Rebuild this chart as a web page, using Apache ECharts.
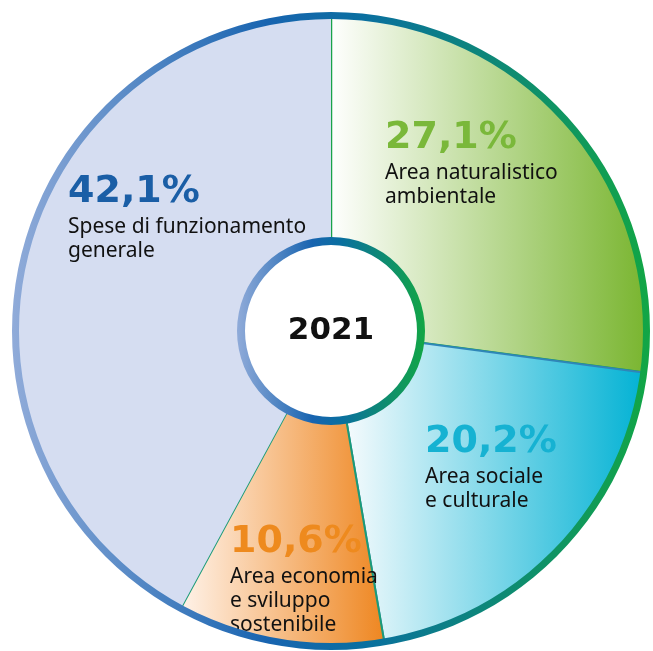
<!DOCTYPE html>
<html>
<head>
<meta charset="utf-8">
<script src="https://cdn.jsdelivr.net/npm/echarts@6/dist/echarts.min.js"></script>
<style>
  html, body { margin: 0; padding: 0; background: #ffffff; }
  #chart { width: 653px; height: 651px; }
</style>
</head>
<body>
<div id="chart"></div>
<script>
// Budget shares by area, 2021 (clockwise from 12 o'clock)
const categories = [
  'Area naturalistico\nambientale',
  'Area sociale\ne culturale',
  'Area economia\ne sviluppo\nsostenibile',
  'Spese di funzionamento\ngenerale'
];
const shares = [27.1, 20.2, 10.6, 42.1];
const yearLabel = '2021';

const percentColors = ['#7ab83a', '#16b2d2', '#ee8a1e', '#1a5ea6'];
const sliceFills = [
  new echarts.graphic.LinearGradient(0, 0, 1, 0, [
    { offset: 0, color: '#ffffff' }, { offset: 1, color: '#79b52f' }]),
  new echarts.graphic.LinearGradient(0, 0, 1, 0, [
    { offset: 0, color: '#f6fbfd' }, { offset: 1, color: '#02b2d4' }]),
  new echarts.graphic.LinearGradient(0, 0, 1, 0, [
    { offset: 0, color: '#fff3ea' }, { offset: 1, color: '#ee8620' }]),
  '#d5ddf1'
];
const sliceBorders = ['#19a34a', '#2f86b8', '#1b9b78', '#86a3d4'];
const sliceBorderWidths = [2.5, 2, 2, 0];

// text block anchors (top-left) for each slice label
const labelAnchors = [[385, 115], [425, 419], [230, 519], [68, 169]];

const ringGradient = () => new echarts.graphic.LinearGradient(0, 0, 1, 0, [
  { offset: 0, color: '#90abd9' },
  { offset: 0.4, color: '#1864b0' },
  { offset: 0.55, color: '#0a6fa0' },
  { offset: 1, color: '#12a645' }
]);

const fmtPct = v => v.toFixed(1).replace('.', ',') + '%';

const CX = 331, CY = 331;

const chart = echarts.init(document.getElementById('chart'), null, { renderer: 'canvas' });
chart.setOption({
  animation: false,
  series: [
    {
      type: 'pie',
      center: [CX, CY],
      radius: [88, 315],
      startAngle: 90,
      clockwise: true,
      z: 2,
      data: shares.map((v, i) => ({
        value: v,
        name: categories[i],
        itemStyle: { color: sliceFills[i], borderColor: sliceBorders[i], borderWidth: sliceBorderWidths[i] },
        label: {
          formatter: '{p|' + fmtPct(v) + '}\n' + categories[i].split('\n').map(s => '{t|' + s + '}').join('\n'),
          rich: {
            p: { fontFamily: 'DejaVu Sans', fontWeight: 'bold', fontSize: 38, lineHeight: 46, color: percentColors[i] },
            t: { fontFamily: 'Noto Sans', fontSize: 21, lineHeight: 24, color: '#111111' }
          }
        }
      })),
      label: { show: true, position: 'inside' },
      labelLine: { show: false },
      labelLayout: params => ({
        x: labelAnchors[params.dataIndex][0],
        y: labelAnchors[params.dataIndex][1],
        align: 'left',
        verticalAlign: 'top'
      }),
      emphasis: { disabled: true }
    },
    {
      // outer rim
      type: 'pie',
      center: [CX, CY],
      radius: [312, 319],
      silent: true,
      z: 3,
      label: { show: false },
      data: [{ value: 1, itemStyle: { color: ringGradient() } }]
    },
    {
      // inner hub rim
      type: 'pie',
      center: [CX, CY],
      radius: [86, 94],
      silent: true,
      z: 3,
      label: { show: false },
      data: [{ value: 1, itemStyle: { color: ringGradient() } }]
    }
  ],
  graphic: [{
    type: 'text',
    x: CX, y: CY,
    z: 10,
    style: {
      text: yearLabel,
      fontFamily: 'DejaVu Sans',
      fontWeight: 'bold',
      fontSize: 31,
      fill: '#111111',
      align: 'center',
      verticalAlign: 'middle'
    }
  }]
});
</script>
</body>
</html>
